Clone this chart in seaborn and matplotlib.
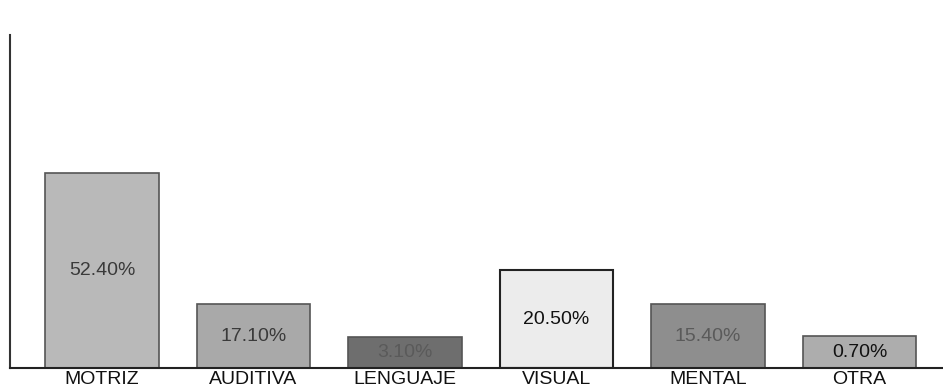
import matplotlib
matplotlib.use("Agg")
import matplotlib.pyplot as plt
import seaborn as sns
import pandas as pd

categories = ["MOTRIZ", "AUDITIVA", "LENGUAJE", "VISUAL", "MENTAL", "OTRA"]
labels = ["52.40%", "17.10%", "3.10%", "20.50%", "15.40%", "0.70%"]
# bar heights as drawn in the picture (scale where MOTRIZ = 52.4)
heights = [52.4, 17.2, 8.3, 26.3, 17.2, 8.6]
colors = ["#b9b9b9", "#a9a9a9", "#6e6e6e", "#ececec", "#8e8e8e", "#adadad"]
label_colors = ["#3a3a3a", "#3a3a3a", "#5a5a5a", "#111111", "#5a5a5a", "#111111"]

df = pd.DataFrame({"cat": categories, "h": heights})

sns.set_theme(style="white")
plt.rcParams["font.family"] = ["Liberation Sans", "DejaVu Sans"]

fig = plt.figure(figsize=(9.43, 3.91), dpi=100)
ax = fig.add_axes([10 / 943, 23 / 391, 933 / 943, 333 / 391])

sns.barplot(data=df, x="cat", y="h", hue="cat", palette=colors, legend=False,
            width=0.75, edgecolor="#555555", linewidth=1.2, saturation=1, ax=ax)

for i, cont in enumerate(ax.containers):
    ax.bar_label(cont, labels=[labels[i]], label_type="center",
                 fontsize=14, color=label_colors[i])
# VISUAL bar has a dark outline
ax.patches[3].set_edgecolor("#222222")
ax.patches[3].set_linewidth(1.5)

ax.set_xlim(-0.607, 5.55)
ax.set_ylim(0, 89.5)
ax.set_xlabel("")
ax.set_ylabel("")
ax.set_yticks([])
ax.tick_params(axis="x", length=0, pad=2, labelsize=14, labelcolor="#111111")
for s in ["top", "right"]:
    ax.spines[s].set_visible(False)
ax.spines["left"].set_color("#333333")
ax.spines["left"].set_linewidth(1.5)
ax.spines["bottom"].set_color("#222222")
ax.spines["bottom"].set_linewidth(1.5)

fig.savefig("out.png", dpi=100, facecolor="white")
